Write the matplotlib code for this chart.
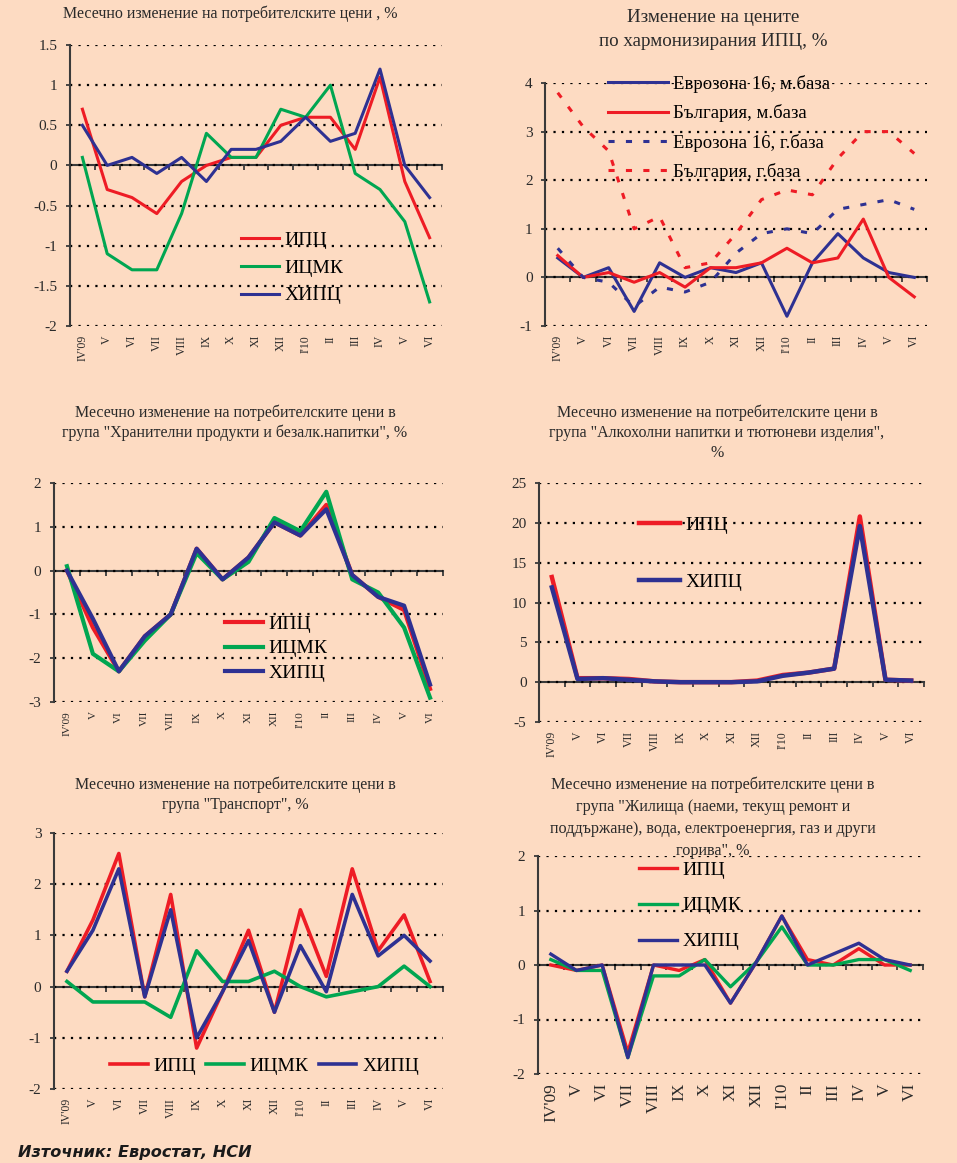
import matplotlib
matplotlib.use('Agg')
import matplotlib.pyplot as plt
from matplotlib.ticker import FuncFormatter
import numpy as np

plt.rcParams['font.family'] = ['Liberation Serif', 'DejaVu Serif']
plt.rcParams['axes.unicode_minus'] = False

# ---------------- data ----------------
months = ["IV'09", "V", "VI", "VII", "VIII", "IX", "X", "XI", "XII",
          "I'10", "II", "III", "IV", "V", "VI"]

# Chart 1: monthly change of consumer prices, %
c1_ipc = [0.7, -0.3, -0.4, -0.6, -0.2, 0.0, 0.1, 0.1, 0.5, 0.6, 0.6, 0.2, 1.1, -0.2, -0.9]
c1_icmk = [0.1, -1.1, -1.3, -1.3, -0.6, 0.4, 0.1, 0.1, 0.7, 0.6, 1.0, -0.1, -0.3, -0.7, -1.7]
c1_hipc = [0.5, 0.0, 0.1, -0.1, 0.1, -0.2, 0.2, 0.2, 0.3, 0.6, 0.3, 0.4, 1.2, 0.0, -0.4]

# Chart 2: HICP change
c2_ez_m = [0.4, 0.0, 0.2, -0.7, 0.3, 0.0, 0.2, 0.1, 0.3, -0.8, 0.3, 0.9, 0.4, 0.1, 0.0]
c2_bg_m = [0.45, 0.0, 0.1, -0.1, 0.1, -0.2, 0.2, 0.2, 0.3, 0.6, 0.3, 0.4, 1.2, 0.0, -0.4]
c2_ez_y = [0.6, 0.0, -0.1, -0.6, -0.2, -0.3, -0.1, 0.5, 0.9, 1.0, 0.9, 1.4, 1.5, 1.6, 1.4]
c2_bg_y = [3.8, 3.1, 2.6, 1.0, 1.25, 0.2, 0.3, 0.9, 1.6, 1.8, 1.7, 2.45, 3.0, 3.0, 2.55]

# Chart 3: food and non-alcoholic beverages
c3_ipc = [0.0, -1.3, -2.3, -1.5, -1.0, 0.5, -0.2, 0.3, 1.1, 0.8, 1.5, -0.1, -0.6, -0.9, -2.7]
c3_icmk = [0.1, -1.9, -2.3, -1.6, -1.0, 0.4, -0.2, 0.2, 1.2, 0.9, 1.8, -0.2, -0.5, -1.3, -2.9]
c3_hipc = [0.0, -1.1, -2.3, -1.5, -1.0, 0.5, -0.2, 0.3, 1.1, 0.8, 1.4, -0.1, -0.6, -0.8, -2.6]

# Chart 4: alcoholic beverages and tobacco
c4_ipc = [13.2, 0.5, 0.5, 0.4, 0.1, 0.0, 0.0, 0.0, 0.2, 0.9, 1.2, 1.7, 20.8, 0.3, 0.2]
c4_hipc = [11.9, 0.4, 0.5, 0.3, 0.1, 0.0, 0.0, 0.0, 0.1, 0.8, 1.2, 1.7, 19.6, 0.3, 0.2]

# Chart 5: transport
c5_ipc = [0.3, 1.3, 2.6, -0.2, 1.8, -1.2, -0.1, 1.1, -0.5, 1.5, 0.2, 2.3, 0.7, 1.4, 0.1]
c5_icmk = [0.1, -0.3, -0.3, -0.3, -0.6, 0.7, 0.1, 0.1, 0.3, 0.0, -0.2, -0.1, 0.0, 0.4, 0.0]
c5_hipc = [0.3, 1.1, 2.3, -0.2, 1.5, -1.0, -0.1, 0.9, -0.5, 0.8, -0.1, 1.8, 0.6, 1.0, 0.5]

# Chart 6: housing, water, electricity, gas and other fuels
c6_ipc = [0.0, -0.1, 0.0, -1.6, 0.0, -0.1, 0.1, -0.7, 0.05, 0.9, 0.1, 0.0, 0.3, 0.0, 0.0]
c6_icmk = [0.1, -0.1, -0.1, -1.7, -0.2, -0.2, 0.1, -0.4, 0.05, 0.7, 0.0, 0.0, 0.1, 0.1, -0.1]
c6_hipc = [0.2, -0.1, 0.0, -1.7, 0.0, 0.0, 0.0, -0.7, 0.05, 0.9, 0.0, 0.2, 0.4, 0.1, 0.0]

lbl_ipc, lbl_icmk, lbl_hipc = "ИПЦ", "ИЦМК", "ХИПЦ"

# ---------------- style ----------------
BG = '#FDDBC2'
RED = '#EE1C25'
GREEN = '#00A651'
BLUE = '#2E3192'
AXC = '#3a3a3a'
TXT = '#2a2a2a'

W, H = 957, 1163
fig = plt.figure(figsize=(W / 100, H / 100), dpi=100, facecolor=BG)
x = np.arange(len(months))


def px_axes(l, r, t, b):
    return fig.add_axes([l / W, 1 - b / H, (r - l) / W, (b - t) / H])


def setup(ax, ylim, yticks, xfs=8.5):
    ax.set_facecolor('none')
    ax.set_xlim(-0.5, len(months) - 0.5)
    ax.set_ylim(*ylim)
    ax.set_yticks(yticks)
    ax.yaxis.set_major_formatter(FuncFormatter(lambda v, p: '%g' % v))
    for s in ['top', 'right', 'bottom']:
        ax.spines[s].set_visible(False)
    ax.spines['left'].set_color(AXC)
    ax.spines['left'].set_linewidth(1.5)
    ax.tick_params(axis='y', direction='out', length=3, width=1.3, color=AXC,
                   labelsize=11, pad=6, labelcolor=TXT)
    ax.set_xticks(x)
    ax.set_xticklabels(months, rotation=90, va='top', ha='center', fontsize=xfs, color=TXT)
    ax.tick_params(axis='x', length=0, pad=6.5)
    ax.grid(axis='y', color='black', linestyle=(0, (1, 2.8)), linewidth=1.6)
    ax.grid(axis='x', visible=False)
    ax.set_axisbelow(True)
    frac = (0 - ylim[0]) / (ylim[1] - ylim[0])
    sec = ax.secondary_xaxis(frac)
    sec.set_alignment('bottom')
    sec.set_xticks(np.arange(-0.5, len(months), 1.0))
    sec.tick_params(axis='x', direction='out', length=3.6, width=1.3, color=AXC,
                    labelbottom=False, labeltop=False)
    sec.spines['bottom'].set_color(AXC)
    sec.spines['bottom'].set_linewidth(1.5)
    return ax


def legend_at(ax, px, py, **kw):
    return ax.legend(loc='upper left', bbox_to_anchor=(px / W, 1 - py / H),
                     bbox_transform=fig.transFigure, frameon=False,
                     borderpad=0, borderaxespad=0, **kw)


def title_at(cx, cy, lines, fs=11.5, lh=20):
    for i, s in enumerate(lines):
        fig.text(cx / W, 1 - (cy + i * lh) / H, s, ha='center', va='center',
                 fontsize=fs, color=TXT)


LEGFS = 14

# ---------- Chart 1 ----------
ax1 = setup(px_axes(70, 442, 45, 326), (-2, 1.5), [-2, -1.5, -1, -0.5, 0, 0.5, 1, 1.5])
ax1.plot(x, c1_ipc, color=RED, lw=2.2, label=lbl_ipc)
ax1.plot(x, c1_icmk, color=GREEN, lw=2.2, label=lbl_icmk)
ax1.plot(x, c1_hipc, color=BLUE, lw=2.2, label=lbl_hipc)
legend_at(ax1, 241, 231, fontsize=LEGFS, handlelength=1.95, handletextpad=0.3,
          labelspacing=0.53)
title_at(230, 14, ["Месечно изменение на потребителските цени , %"])

# ---------- Chart 2 ----------
ax2 = setup(px_axes(545, 927, 83, 326), (-1, 4), [-1, 0, 1, 2, 3, 4])
dash = (0, (2.0, 3.7))
ax2.plot(x, c2_ez_m, color=BLUE, lw=2.2, label="Еврозона 16, м.база")
ax2.plot(x, c2_bg_m, color=RED, lw=2.2, label="България, м.база")
ax2.plot(x, c2_ez_y, color=BLUE, lw=2.2, ls=dash, label="Еврозона 16, г.база")
ax2.plot(x, c2_bg_y, color=RED, lw=2.2, ls=dash, label="България, г.база")
legend_at(ax2, 608, 75, fontsize=13.5, handlelength=3.2, handletextpad=0.27,
          labelspacing=0.6)
title_at(713, 17, ["Изменение на цените", "по хармонизирания ИПЦ, %"], fs=13.7, lh=25)

# ---------- Chart 3 ----------
ax3 = setup(px_axes(54, 443, 483, 702), (-3, 2), [-3, -2, -1, 0, 1, 2], xfs=8)
ax3.plot(x, c3_ipc, color=RED, lw=3, label=lbl_ipc)
ax3.plot(x, c3_icmk, color=GREEN, lw=3, label=lbl_icmk)
ax3.plot(x, c3_hipc, color=BLUE, lw=3, label=lbl_hipc)
legend_at(ax3, 225, 615, fontsize=LEGFS, handlelength=1.95, handletextpad=0.3,
          labelspacing=0.37)
title_at(235, 413, ["Месечно изменение на потребителските цени в",
                    "група \"Хранителни продукти и безалк.напитки\", %"])

# ---------- Chart 4 ----------
ax4 = setup(px_axes(539, 924, 483, 722), (-5, 25), [-5, 0, 5, 10, 15, 20, 25])
ax4.plot(x, c4_ipc, color=RED, lw=3.2, label=lbl_ipc)
ax4.plot(x, c4_hipc, color=BLUE, lw=3.2, label=lbl_hipc)
legend_at(ax4, 639, 516, fontsize=LEGFS, handlelength=2.1, handletextpad=0.3,
          labelspacing=2.05)
title_at(717, 413, ["Месечно изменение на потребителските цени в",
                    "група \"Алкохолни напитки и тютюневи изделия\",", "%"])

# ---------- Chart 5 ----------
ax5 = setup(px_axes(54, 443, 833, 1089), (-2, 3), [-2, -1, 0, 1, 2, 3])
ax5.plot(x, c5_ipc, color=RED, lw=2.6, label=lbl_ipc)
ax5.plot(x, c5_icmk, color=GREEN, lw=2.6, label=lbl_icmk)
ax5.plot(x, c5_hipc, color=BLUE, lw=2.6, label=lbl_hipc)
legend_at(ax5, 110, 1057, fontsize=LEGFS, ncol=3, handlelength=1.95,
          handletextpad=0.3, columnspacing=0.5)
title_at(235, 785, ["Месечно изменение на потребителските цени в",
                    "група \"Транспорт\", %"])

# ---------- Chart 6 ----------
ax6 = setup(px_axes(538, 923, 856, 1074), (-2, 2), [-2, -1, 0, 1, 2], xfs=12.5)
ax6.plot(x, c6_ipc, color=RED, lw=2.4, label=lbl_ipc)
ax6.plot(x, c6_icmk, color=GREEN, lw=2.4, label=lbl_icmk)
ax6.plot(x, c6_hipc, color=BLUE, lw=2.4, label=lbl_hipc)
legend_at(ax6, 639, 861, fontsize=LEGFS, handlelength=1.95, handletextpad=0.3,
          labelspacing=0.94)
title_at(713, 785, ["Месечно изменение на потребителските цени в",
                    "група \"Жилища (наеми, текущ ремонт и",
                    "поддържане), вода, електроенергия, газ и други",
                    "горива\", %"], fs=11.6, lh=22)

# ---------- Source ----------
fig.text(18 / W, 1 - 1152 / H, "Източник: Евростат, НСИ", ha='left', va='center',
         fontsize=11.6, fontweight='bold', fontstyle='italic', color='#1a1a1a',
         family=['DejaVu Sans'])

fig.savefig('out.png', dpi=100, facecolor=BG)
